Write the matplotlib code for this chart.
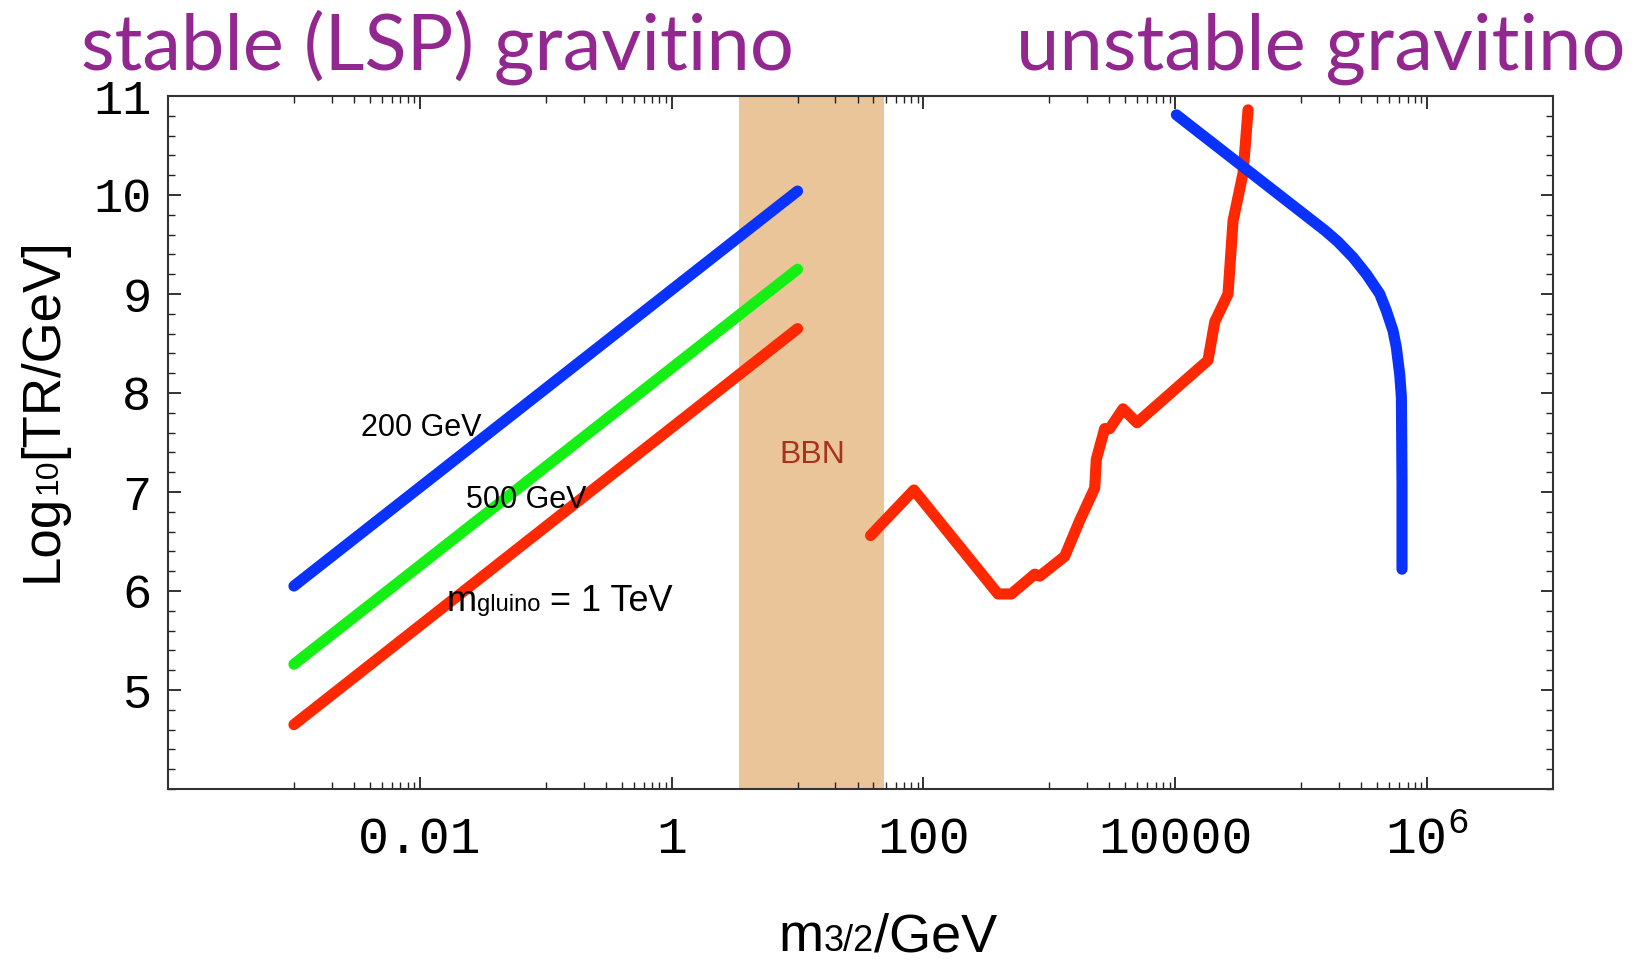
import numpy as np
import matplotlib
matplotlib.use('Agg')
import matplotlib.pyplot as plt
from matplotlib.transforms import offset_copy
from matplotlib.ticker import FixedLocator, FixedFormatter, NullFormatter

W, H, DPI = 1636, 960, 100

BLUE = '#0a32ff'
GREEN = '#14f014'
RED = '#ff2800'
PURPLE = '#922790'
BAND = '#ebc59a'

# stable gravitino: lines for m_gluino = 200 GeV, 500 GeV, 1 TeV
m_stable = [1e-3, 10]
T_200 = [6.05, 10.04]
T_500 = [5.26, 9.25]
T_1000 = [4.65, 8.65]

# unstable gravitino, red (hadronic BBN) curve
m_red = [38, 84, 391, 499, 765, 839, 1324, 1739, 2292, 2360, 2749, 3013,
         3845, 4965, 18190, 20600, 26240, 28770, 34540, 37860]
T_red = [6.56, 7.02, 5.97, 5.97, 6.17, 6.15, 6.35, 6.71, 7.04, 7.33, 7.64, 7.64,
         7.84, 7.70, 8.33, 8.72, 9.00, 9.74, 10.22, 10.86]

# unstable gravitino, blue curve
m_blue = [1.02e4, 1.55e5, 1.95e5, 2.58e5, 3.30e5, 4.21e5, 4.75e5, 5.36e5,
          5.70e5, 6.06e5, 6.25e5, 6.32e5, 6.32e5]
T_blue = [10.81, 9.64, 9.53, 9.37, 9.20, 9.00, 8.83, 8.63,
          8.46, 8.19, 7.96, 7.11, 6.22]

# BBN excluded band
bbn_lo, bbn_hi = 3.4, 49

x_major = [1e-2, 1, 1e2, 1e4, 1e6]
x_labels = ['0.01', '1', '100', '10000', r'$\mathregular{10^{6}}$']
y_major = [5, 6, 7, 8, 9, 10, 11]

plt.rcParams['mathtext.fontset'] = 'custom'
plt.rcParams['mathtext.rm'] = 'Liberation Mono'
plt.rcParams['mathtext.it'] = 'Liberation Mono'
plt.rcParams['mathtext.bf'] = 'Liberation Mono'

SANS = 'Liberation Sans'


def chain(fig, pieces, x, y, base, rotation=0, color='black', family=SANS):
  # place text pieces one after another, baseline aligned
  r = fig.canvas.get_renderer()
  off = 0.0
  for s, size in pieces:
    if rotation == 0:
      tr = offset_copy(base, fig=fig, x=off, y=0, units='dots')
    else:
      tr = offset_copy(base, fig=fig, x=0, y=off, units='dots')
    t = fig.text(x, y, s, fontsize=size, family=family, color=color,
                 rotation=rotation, rotation_mode='anchor',
                 ha='left', va='baseline', transform=tr)
    bb = t.get_window_extent(r)
    off += bb.width if rotation == 0 else bb.height
  return off


def text_len(fig, pieces):
  r = fig.canvas.get_renderer()
  total = 0
  for s, size in pieces:
    t = fig.text(0, 0, s, fontsize=size, family=SANS)
    total += t.get_window_extent(r).width
    t.remove()
  return total


def main():
  fig = plt.figure(figsize=(W / DPI, H / DPI), dpi=DPI)
  ax = fig.add_axes([168 / W, 1 - 789 / H, (1553 - 168) / W, (789 - 96) / H])
  ax.set_xscale('log')
  ax.set_xlim(1e-4, 1e7)
  ax.set_ylim(4, 11)

  ax.axvspan(bbn_lo, bbn_hi, color=BAND, lw=0, zorder=0)

  for T, c in [(T_200, BLUE), (T_500, GREEN), (T_1000, RED)]:
    ax.plot(m_stable, T, color=c, lw=8, solid_capstyle='round', zorder=3)
  ax.plot(m_red, T_red, color=RED, lw=8, solid_capstyle='round',
          solid_joinstyle='round', zorder=3)
  ax.plot(m_blue, T_blue, color=BLUE, lw=8, solid_capstyle='round',
          solid_joinstyle='round', zorder=3)

  # ticks in Mathematica style
  x_minor = [j * 10.0 ** e for e in (-3, -1, 1, 3, 5) for j in range(1, 10)]
  ax.xaxis.set_major_locator(FixedLocator(x_major))
  ax.xaxis.set_major_formatter(FixedFormatter(x_labels))
  ax.xaxis.set_minor_locator(FixedLocator(x_minor))
  ax.xaxis.set_minor_formatter(NullFormatter())
  ax.yaxis.set_major_locator(FixedLocator(y_major))
  ax.yaxis.set_minor_locator(FixedLocator(np.arange(4, 11.01, 0.2)))
  ax.tick_params(which='both', direction='in', top=True, right=True,
                 color='#222222', labelfontfamily='Liberation Mono')
  ax.tick_params(which='major', length=9, width=1.3)
  ax.tick_params(which='minor', length=5, width=1.0)
  ax.tick_params(axis='x', which='major', labelsize=37, pad=19)
  ax.tick_params(axis='y', which='major', labelsize=35, pad=12)
  for s in ax.spines.values():
    s.set_color('#333333')
    s.set_linewidth(1.5)

  # annotations
  ax.text(3.39e-3, 7.567, '200 GeV', fontsize=22, family=SANS,
          ha='left', va='baseline')
  ax.text(2.31e-2, 6.836, '500 GeV', fontsize=22, family=SANS,
          ha='left', va='baseline')
  chain(fig, [('m', 26), ('gluino', 17), (' = 1 TeV', 26)],
        1.63e-2, 5.80, ax.transData)
  ax.text(13.2, 7.37, 'BBN', fontsize=23, family=SANS, color='#a8321e',
          ha='center', va='center')

  # titles
  fig.text(81 / W, 1 - 70 / H, 'stable (LSP) gravitino', fontsize=56,
           family='Lato', color=PURPLE, ha='left', va='baseline')
  fig.text(1625 / W, 1 - 70 / H, 'unstable gravitino', fontsize=56,
           family='Lato', color=PURPLE, ha='right', va='baseline')

  # axis labels built from pieces (small digits on the baseline)
  ident = matplotlib.transforms.IdentityTransform()
  xl = [('m', 39), ('3/2', 26), ('/GeV', 39)]
  chain(fig, xl, 888 - text_len(fig, xl) / 2, H - 951, ident)

  yl = [('Log', 38), ('10', 23), ('[TR/GeV]', 38)]
  chain(fig, yl, 57, H - 410 - text_len(fig, yl) / 2, ident, rotation=90)

  fig.savefig('out.png', dpi=DPI)


if __name__ == '__main__':
  main()
